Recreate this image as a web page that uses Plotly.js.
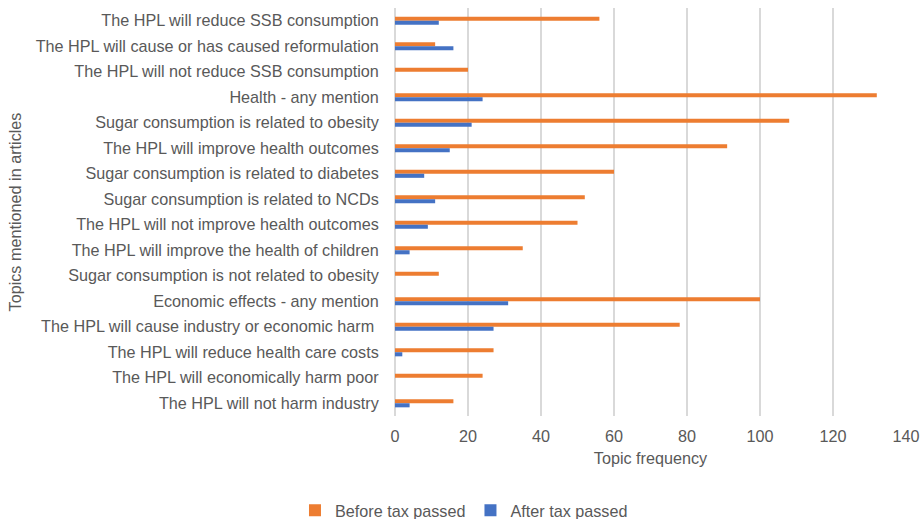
<!DOCTYPE html>
<html>
<head>
<meta charset="utf-8">
<script src="https://cdn.plot.ly/plotly-3.0.1.min.js"></script>
<style>html,body{margin:0;padding:0;background:#fff;}#chart{width:921px;height:519px;}</style>
</head>
<body>
<div id="chart"></div>
<script>
const topics = [
  "The HPL will reduce SSB consumption",
  "The HPL will cause or has caused reformulation",
  "The HPL will not reduce SSB consumption",
  "Health - any mention",
  "Sugar consumption is related to obesity",
  "The HPL will improve health outcomes",
  "Sugar consumption is related to diabetes",
  "Sugar consumption is related to NCDs",
  "The HPL will not improve health outcomes",
  "The HPL will improve the health of children",
  "Sugar consumption is not related to obesity",
  "Economic effects - any mention",
  "The HPL will cause industry or economic harm ",
  "The HPL will reduce health care costs",
  "The HPL will economically harm poor",
  "The HPL will not harm industry"
];
const beforeTax = [56, 11, 20, 132, 108, 91, 60, 52, 50, 35, 12, 100, 78, 27, 24, 16];
const afterTax  = [12, 16, 0, 24, 21, 15, 8, 11, 9, 4, 0, 31, 27, 2, 0, 4];
const seriesNames = ["Before tax passed", "After tax passed"];
const xTicks = [0, 20, 40, 60, 80, 100, 120, 140];

const grey = "#595959";
const fontFam = "Liberation Sans, Arial, sans-serif";
const fs = 16.2;

const data = [
  {type: "bar", orientation: "h", name: seriesNames[0], y: topics, x: beforeTax,
   marker: {color: "#ED7D31"}, hoverinfo: "x+y"},
  {type: "bar", orientation: "h", name: seriesNames[1], y: topics, x: afterTax,
   marker: {color: "#4472C4"}, hoverinfo: "x+y"}
];

const layout = {
  width: 921, height: 519,
  margin: {l: 395, r: 15, t: 8, b: 103, autoexpand: false},
  paper_bgcolor: "#fff", plot_bgcolor: "#fff",
  barmode: "group", bargap: 0.68, bargroupgap: 0,
  font: {family: fontFam, size: fs, color: grey},
  showlegend: true,
  legend: {orientation: "h", x: 0.135, xanchor: "center", y: -0.232, yanchor: "middle",
           font: {size: fs, color: grey}, traceorder: "normal", itemwidth: 30},
  xaxis: {
    range: [0, 140], tickvals: xTicks, ticktext: xTicks.map(String),
    showgrid: true, gridcolor: "#d9d9d9", gridwidth: 1.3,
    zeroline: true, zerolinecolor: "#d9d9d9", zerolinewidth: 1.3,
    showline: false, ticks: "outside", ticklen: 6, tickcolor: "rgba(0,0,0,0)",
    tickfont: {size: fs, color: grey},
    title: {text: "Topic frequency", font: {size: fs, color: grey}, standoff: 8},
    fixedrange: true
  },
  yaxis: {
    type: "category", autorange: "reversed",
    showgrid: false, zeroline: false, showline: false,
    ticks: "outside", ticklen: 12, tickcolor: "rgba(0,0,0,0)",
    tickfont: {size: fs, color: grey},
    title: {text: "Topics mentioned in articles", font: {size: fs, color: grey}, standoff: 9},
    fixedrange: true
  }
};

Plotly.newPlot("chart", data, layout, {displayModeBar: false, staticPlot: true});
</script>
</body>
</html>
